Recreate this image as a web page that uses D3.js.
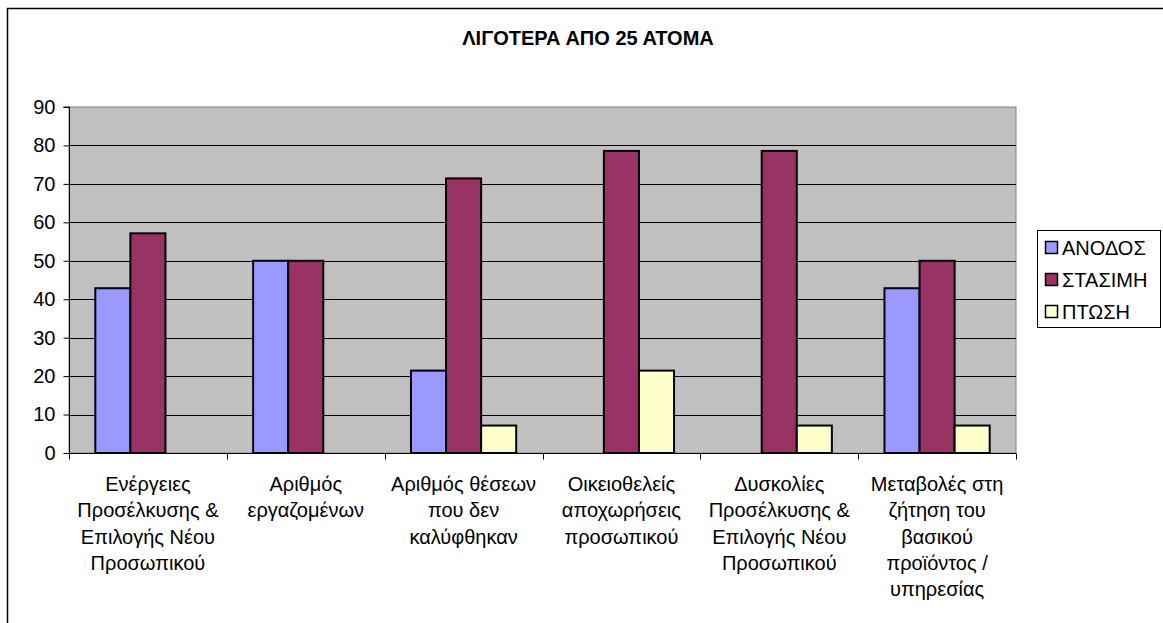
<!DOCTYPE html>
<html>
<head>
<meta charset="utf-8">
<script src="https://cdn.jsdelivr.net/npm/d3@7"></script>
<style>
  html, body { margin: 0; padding: 0; background: #fff; }
  svg { display: block; }
  text { font-family: Arial, "Liberation Sans", sans-serif; fill: #000; }
</style>
</head>
<body>
<svg id="chart" width="1163" height="623"></svg>
<script>
// Chart data
const title = "ΛΙΓΟΤΕΡΑ ΑΠΟ 25 ΑΤΟΜΑ";
const categories = [
  "Ενέργειες Προσέλκυσης & Επιλογής Νέου Προσωπικού",
  "Αριθμός εργαζομένων",
  "Αριθμός θέσεων που δεν καλύφθηκαν",
  "Οικειοθελείς αποχωρήσεις προσωπικού",
  "Δυσκολίες Προσέλκυσης & Επιλογής Νέου Προσωπικού",
  "Μεταβολές στη ζήτηση του βασικού προϊόντος / υπηρεσίας"
];
// Category labels as they wrap under the axis
const categoryLines = [
  ["Ενέργειες", "Προσέλκυσης &", "Επιλογής Νέου", "Προσωπικού"],
  ["Αριθμός", "εργαζομένων"],
  ["Αριθμός θέσεων", "που δεν", "καλύφθηκαν"],
  ["Οικειοθελείς", "αποχωρήσεις", "προσωπικού"],
  ["Δυσκολίες", "Προσέλκυσης &", "Επιλογής Νέου", "Προσωπικού"],
  ["Μεταβολές στη", "ζήτηση του", "βασικού", "προϊόντος /", "υπηρεσίας"]
];
const seriesNames = ["ΑΝΟΔΟΣ", "ΣΤΑΣΙΜΗ", "ΠΤΩΣΗ"];
const anodos   = [42.86, 50, 21.43, 0, 0, 42.86];
const stasimi  = [57.14, 50, 71.43, 78.57, 78.57, 50];
const ptosi    = [0, 0, 7.14, 21.43, 7.14, 7.14];
const yTicks   = [0, 10, 20, 30, 40, 50, 60, 70, 80, 90];
const seriesColors = ["#9999FF", "#993366", "#FFFFCC"];

const seriesValues = [anodos, stasimi, ptosi];

const svg = d3.select("#chart");

// Chart area frame
svg.append("rect")
  .attr("x", 7.5).attr("y", 8.5)
  .attr("width", 1170).attr("height", 640)
  .attr("fill", "#fff").attr("stroke", "#000").attr("stroke-width", 1.5);

// Plot geometry
const plot = { left: 69, right: 1016, top: 107, bottom: 453 };

const x = d3.scaleBand()
  .domain(categories)
  .range([plot.left, plot.right])
  .paddingInner(0).paddingOuter(0);

// Series within a category: gap width of 150% split on both sides
const xs = d3.scaleBand()
  .domain(seriesNames)
  .range([0, x.bandwidth()])
  .paddingInner(0).paddingOuter(0.75);

const y = d3.scaleLinear()
  .domain([0, 90])
  .range([plot.bottom, plot.top]);

// Plot area background
svg.append("rect")
  .attr("x", plot.left).attr("y", plot.top)
  .attr("width", plot.right - plot.left).attr("height", plot.bottom - plot.top)
  .attr("fill", "#C0C0C0").attr("stroke", "#808080").attr("stroke-width", 1);

// Horizontal gridlines
svg.append("g")
  .selectAll("line")
  .data(yTicks.filter(t => t > 0 && t < 90))
  .join("line")
  .attr("x1", plot.left).attr("x2", plot.right)
  .attr("y1", d => Math.round(y(d)) + 0.5).attr("y2", d => Math.round(y(d)) + 0.5)
  .attr("stroke", "#000").attr("stroke-width", 1);

// Bars
const rows = [];
seriesNames.forEach((s, si) => {
  categories.forEach((c, ci) => {
    rows.push({ series: s, si, cat: c, value: seriesValues[si][ci] });
  });
});

svg.append("g")
  .selectAll("rect")
  .data(rows.filter(d => d.value > 0))
  .join("rect")
  .attr("x", d => x(d.cat) + xs(d.series))
  .attr("y", d => y(d.value))
  .attr("width", xs.bandwidth())
  .attr("height", d => y(0) - y(d.value))
  .attr("fill", d => seriesColors[d.si])
  .attr("stroke", "#000")
  .attr("stroke-width", 2);

// Y axis
const yAxis = d3.axisLeft(y)
  .tickValues(yTicks)
  .tickSize(6)
  .tickPadding(8)
  .tickFormat(d3.format("d"));

const yg = svg.append("g")
  .attr("transform", `translate(${plot.left + 0.5},0)`)
  .call(yAxis);
yg.select(".domain").attr("stroke", "#000").attr("d", `M-6,${y(90)}H0V${y(0)}`);
yg.selectAll(".tick line").attr("stroke", "#000");
yg.selectAll(".tick text")
  .attr("font-family", "Arial, 'Liberation Sans', sans-serif")
  .attr("font-size", 20)
  .attr("fill", "#000");

// X axis: tick marks on category boundaries
const xg = svg.append("g").attr("transform", `translate(0,${plot.bottom + 0.5})`);
xg.append("line")
  .attr("x1", plot.left).attr("x2", plot.right)
  .attr("stroke", "#000");
const boundaries = categories.map(c => x(c)).concat([plot.right]);
xg.selectAll("line.tick")
  .data(boundaries)
  .join("line")
  .attr("class", "tick")
  .attr("x1", d => Math.round(d) + 0.5).attr("x2", d => Math.round(d) + 0.5)
  .attr("y1", 0).attr("y2", 6)
  .attr("stroke", "#000");

// Category labels
const labels = svg.append("g")
  .attr("font-size", 20)
  .attr("text-anchor", "middle");
categories.forEach((c, ci) => {
  const t = labels.append("text")
    .attr("x", x(c) + x.bandwidth() / 2)
    .attr("y", 491);
  categoryLines[ci].forEach((line, li) => {
    t.append("tspan")
      .attr("x", x(c) + x.bandwidth() / 2)
      .attr("y", 491 + li * 26.3)
      .text(line);
  });
});

// Title
svg.append("text")
  .attr("x", 588).attr("y", 45)
  .attr("text-anchor", "middle")
  .attr("font-size", 20)
  .attr("font-weight", "bold")
  .text(title);

// Legend
const legend = svg.append("g");
legend.append("rect")
  .attr("x", 1037.5).attr("y", 230.5)
  .attr("width", 123).attr("height", 97)
  .attr("fill", "#fff").attr("stroke", "#000").attr("stroke-width", 1);
seriesNames.forEach((s, i) => {
  const cy = 248 + i * 32;
  legend.append("rect")
    .attr("x", 1045.5).attr("y", cy - 6.5)
    .attr("width", 12).attr("height", 12)
    .attr("fill", seriesColors[i]).attr("stroke", "#000").attr("stroke-width", 1.5);
  legend.append("text")
    .attr("x", 1062).attr("y", cy)
    .attr("dy", "0.35em")
    .attr("font-size", 20)
    .text(s);
});
</script>
</body>
</html>
